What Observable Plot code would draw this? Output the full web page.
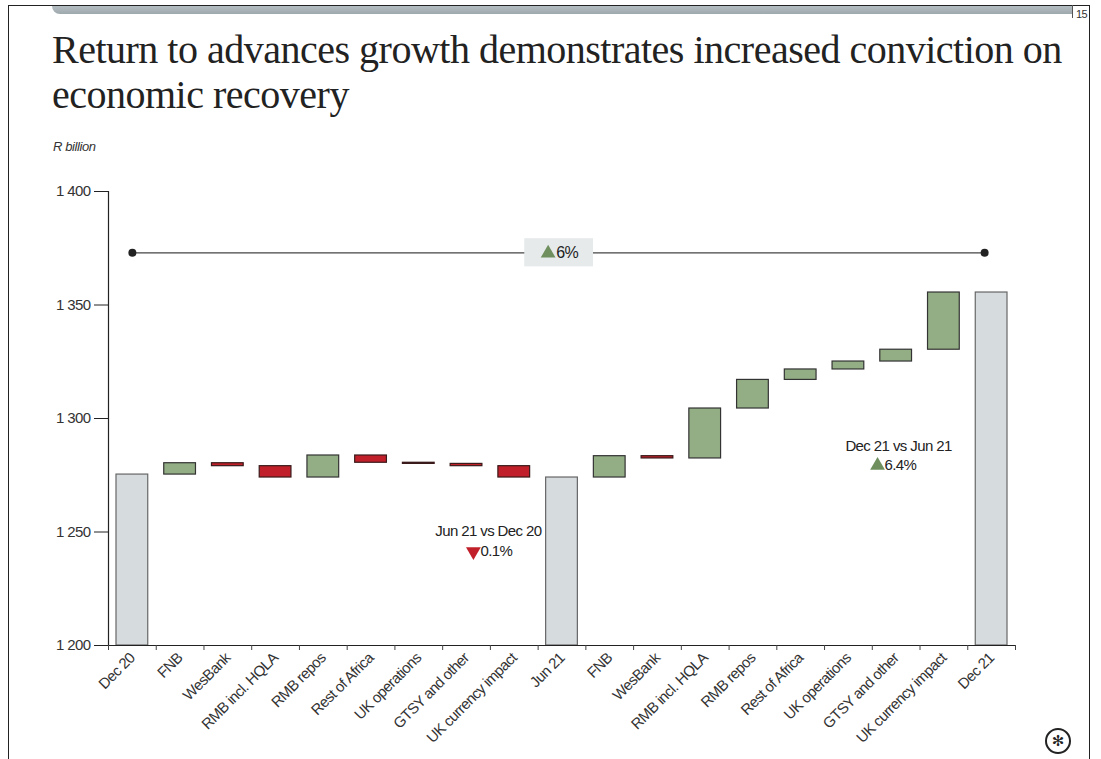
<!DOCTYPE html>
<html>
<head>
<meta charset="utf-8">
<script src="https://cdn.jsdelivr.net/npm/d3@7"></script>
<script src="https://cdn.jsdelivr.net/npm/@observablehq/plot@0.6"></script>
<style>
  html, body { margin: 0; padding: 0; background: #fff; }
  body { width: 1101px; height: 759px; position: relative; overflow: hidden; }
  .frame { position: absolute; left: 8px; top: 5px; width: 1082px; height: 780px; border: 1.5px solid #222; box-sizing: border-box; }
  .topbar { position: absolute; left: 52px; top: 6px; width: 1020px; height: 8px; background: linear-gradient(#b3bdc1, #9ea9ae); border-bottom-left-radius: 8px; }
  .pagetick { position: absolute; left: 1072px; top: 5px; width: 1px; height: 13px; background: #555; }
  .pagenum { position: absolute; left: 1076px; top: 8px; font: 11px "Liberation Sans", sans-serif; letter-spacing: -0.5px; color: #333; }
  .title { position: absolute; left: 52px; top: 27px; width: 1030px; font-family: "Liberation Serif", "DejaVu Serif", serif; font-size: 40px; line-height: 45px; color: #222; letter-spacing: -0.5px; }
  .unit { position: absolute; left: 53px; top: 139px; font: italic 13px "Liberation Sans", sans-serif; letter-spacing: -0.4px; color: #333; }
  #chart { position: absolute; left: 0; top: 160px; }
  #chart text { letter-spacing: -0.6px; }
  .logo { position: absolute; left: 1045px; top: 728px; width: 26px; height: 26px; border: 2px solid #222; border-radius: 50%; box-sizing: border-box; font: bold 15px "DejaVu Sans"; text-align: center; line-height: 22px; color: #222; }
</style>
</head>
<body>
<div class="frame"></div>
<div class="topbar"></div>
<div class="pagetick"></div>
<div class="pagenum">15</div>
<div class="title">Return to advances growth demonstrates increased conviction on economic recovery</div>
<div class="unit">R billion</div>
<div id="chart"></div>
<div class="logo">✻</div>
<script>
// ---- data ----
const categories = ["Dec 20","FNB","WesBank","RMB incl. HQLA","RMB repos","Rest of Africa","UK operations","GTSY and other","UK currency impact","Jun 21","FNB","WesBank","RMB incl. HQLA","RMB repos","Rest of Africa","UK operations","GTSY and other","UK currency impact","Dec 21"];
const totalLabels = ["Dec 20","Jun 21","Dec 21"];
const totalValues = [1275.3, 1274.0, 1355.5];
const changesH1 = [5.0, -1.3, -5.0, 9.7, -3.2, -0.5, -1.0, -5.0];
const changesH2 = [9.4, -1.0, 22.0, 12.6, 4.6, 3.5, 5.2, 25.2];
const yTicks = [1200, 1250, 1300, 1350, 1400];
const overallLabel = "6%";
const overallLevel = 1373;
const periodLabels = ["Jun 21 vs Dec 20", "Dec 21 vs Jun 21"];
const periodChanges = ["0.1%", "6.4%"];
const periodDirections = ["down", "up"];

// ---- build waterfall rows ----
const changes = [changesH1, changesH2];
const rows = [];
let running = 0, t = 0, c = 0;
categories.forEach((name, i) => {
  if (totalLabels.includes(name) && (i === 0 || i === 9 || i === 18)) {
    running = totalValues[t++];
    rows.push({i, name, y1: 1200, y2: running, kind: "total"});
    c = 0;
  } else {
    const d = changes[t - 1][c++];
    rows.push({i, name, y1: running, y2: running + d, kind: d >= 0 ? "up" : "down"});
    running += d;
  }
});

const fill = {total: "#d6dbde", up: "#93ae84", down: "#c1202a"};
const stroke = {total: "#666", up: "#333", down: "#3a1a1a"};
const green = "#6f8f5f", red = "#c1202a";
const FONT = '"Liberation Sans", Arial, sans-serif';
const fmt = d3.formatLocale({thousands: " ", grouping: [3], decimal: "."}).format(",");

const xLeft = 0.5, xRight = 18.5;
const mid = (xLeft + xRight) / 2 - 0.06;

const chart = Plot.plot({
  width: 1101,
  height: 599,
  marginTop: 31,
  marginBottom: 114,
  marginLeft: 108,
  marginRight: 86,
  style: {fontFamily: FONT, fontSize: "15px", color: "#222", background: "transparent"},
  x: {type: "linear", domain: [0, categories.length]},
  y: {domain: [1200, 1400]},
  marks: [
    // bars
    Plot.rect(rows, {
      x1: "i", x2: d => d.i + 1, y1: "y1", y2: "y2",
      insetLeft: 8, insetRight: 8,
      fill: d => fill[d.kind], stroke: d => stroke[d.kind], strokeWidth: 1.2
    }),
    // axes
    Plot.axisY({ticks: yTicks, tickFormat: fmt, tickSize: 14, tickPadding: 4, fontSize: 15, label: null, stroke: "#222", fill: "#333"}),
    Plot.ruleX([0], {stroke: "#222", strokeWidth: 1.2}),
    Plot.ruleY([1200], {stroke: "#222", strokeWidth: 1.2}),
    Plot.axisX({ticks: d3.range(0, categories.length + 1), tickFormat: () => "", tickSize: 5, label: null, stroke: "#444"}),
    Plot.axisX({ticks: d3.range(categories.length).map(i => i + 0.5), tickFormat: v => categories[Math.floor(v)],
      tickSize: 0, tickPadding: 10, tickRotate: -45, fontSize: 15, label: null, fill: "#333"}),
    // overall connector
    Plot.ruleY([overallLevel], {x1: xLeft, x2: xRight, stroke: "#444", strokeWidth: 1.2, insetRight: 7}),
    Plot.dot([[xLeft, overallLevel]], {x: d => d[0], y: d => d[1], r: 4, fill: "#222"}),
    Plot.dot([[xRight, overallLevel]], {x: d => d[0], y: d => d[1], r: 4, fill: "#222", dx: -7}),
    Plot.rect([overallLevel], {x1: mid - 0.72, x2: mid + 0.72, y1: d => d - 6.2, y2: d => d + 6.2, fill: "#e6eaeb"}),
    Plot.dot([overallLevel], {x: mid, y: d => d, symbol: "triangle", r: 5.5, fill: green, dx: -11, dy: 0.5}),
    Plot.text([overallLabel], {x: mid, y: overallLevel, text: d => d, textAnchor: "start", dx: -3, fontSize: 16, fill: "#222"}),
    // period annotations
    Plot.text([periodLabels[0]], {x: 8, y: 1250.2, text: d => d, dx: -2, fontSize: 15, fill: "#222"}),
    Plot.dot([periodDirections[0]], {x: 8, y: 1241.4, symbol: "triangle", rotate: d => d === "down" ? 180 : 0, r: 5.5, fill: d => d === "down" ? red : green, dx: -17}),
    Plot.text([periodChanges[0]], {x: 8, y: 1241.4, text: d => d, textAnchor: "start", dx: -10, fontSize: 15, fill: "#222"}),
    Plot.text([periodLabels[1]], {x: 16.55, y: 1287.7, text: d => d, fontSize: 15, fill: "#222"}),
    Plot.dot([periodDirections[1]], {x: 16.55, y: 1279.3, symbol: "triangle", rotate: d => d === "down" ? 180 : 0, r: 5.5, fill: d => d === "down" ? red : green, dx: -21}),
    Plot.text([periodChanges[1]], {x: 16.55, y: 1279.3, text: d => d, textAnchor: "start", dx: -14, fontSize: 15, fill: "#222"})
  ]
});
document.getElementById("chart").appendChild(chart);
</script>
</body>
</html>
